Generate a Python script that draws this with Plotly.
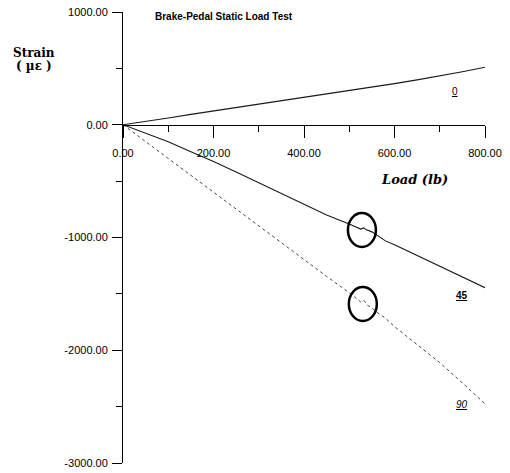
import plotly.graph_objects as go

# ---- data ----
load_0 = [0, 50, 100, 150, 200, 250, 300, 350, 400, 450, 500, 550, 600, 650, 700, 750, 800]
strain_0 = [0, 28, 60, 92, 122, 150, 182, 212, 242, 272, 302, 335, 365, 398, 432, 470, 510]

load_45 = [0, 50, 100, 150, 200, 250, 300, 350, 400, 450, 500, 515, 525, 532, 538, 550, 560, 580, 600, 650, 700, 750, 800]
strain_45 = [0, -75, -150, -240, -325, -420, -515, -610, -705, -800, -880, -905, -925, -915, -932, -950, -975, -1030, -1065, -1160, -1255, -1350, -1445]

load_90 = [0, 50, 100, 150, 200, 250, 300, 350, 400, 450, 500, 515, 525, 532, 540, 550, 560, 580, 600, 650, 700, 750, 800]
strain_90 = [0, -150, -300, -450, -600, -750, -900, -1050, -1195, -1345, -1490, -1535, -1570, -1555, -1600, -1625, -1660, -1715, -1790, -1950, -2110, -2290, -2475]

circle_load = [528, 530]
circle_strain = [-933, -1590]

label_text = ["<u>0</u>", "<u><b>45</b></u>", "<u><i>90</i></u>"]
label_load = [734, 749, 749]
label_strain = [296, -1516, -2484]

y_tickvals = [1000, 0, -1000, -2000, -3000]
y_ticktext = ["1000.00", "0.00", "-1000.00", "-2000.00", "-3000.00"]
x_tickvals = [0, 200, 400, 600, 800]
x_ticktext = ["0.00", "200.00", "400.00", "600.00", "800.00"]

fig = go.Figure()
fig.add_trace(go.Scatter(x=load_0, y=strain_0, mode="lines",
                         line=dict(color="#1a1a1a", width=1.1), name="0"))
fig.add_trace(go.Scatter(x=load_45, y=strain_45, mode="lines",
                         line=dict(color="#1a1a1a", width=1.1), name="45"))
fig.add_trace(go.Scatter(x=load_90, y=strain_90, mode="lines",
                         line=dict(color="#444444", width=1, dash="dot"), name="90"))

shapes = []
for cx, cy in zip(circle_load, circle_strain):
    shapes.append(dict(type="circle", xref="x", yref="y",
                       xsizemode="pixel", ysizemode="pixel",
                       xanchor=cx, yanchor=cy,
                       x0=-14, x1=14, y0=-17, y1=17,
                       line=dict(color="black", width=2.5)))

annotations = []
for t, lx, ly in zip(label_text, label_load, label_strain):
    annotations.append(dict(text=t, x=lx, y=ly, xref="x", yref="y", showarrow=False,
                            font=dict(family="Liberation Sans", size=10, color="black")))
annotations += [
    dict(text="<b>Brake-Pedal Static Load Test</b>", xref="paper", yref="paper",
         x=(153 - 123) / 362, y=1.0 - (16 - 12) / 451, xanchor="left", yanchor="middle",
         showarrow=False, font=dict(family="Liberation Sans", size=10, color="black")),
    dict(text="<b>Strain</b>", xref="paper", yref="paper",
         x=(34 - 123) / 362, y=1.0 - (53 - 12) / 451, xanchor="center", yanchor="middle",
         showarrow=False, font=dict(family="DejaVu Serif", size=12, color="black")),
    dict(text="<b>( µε )</b>", xref="paper", yref="paper",
         x=(34 - 123) / 362, y=1.0 - (66 - 12) / 451, xanchor="center", yanchor="middle",
         showarrow=False, font=dict(family="DejaVu Serif", size=12, color="black")),
    dict(text="<b><i>Load (lb)</i></b>", xref="paper", yref="paper",
         x=(414 - 123) / 362, y=1.0 - (179 - 12) / 451, xanchor="center", yanchor="middle",
         showarrow=False, font=dict(family="DejaVu Serif", size=13, color="black")),
]

fig.update_layout(
    width=510, height=473,
    margin=dict(l=123, r=25, t=12, b=10),
    paper_bgcolor="white", plot_bgcolor="white",
    showlegend=False,
    shapes=shapes,
    annotations=annotations,
    xaxis=dict(range=[0, 800], tickvals=x_tickvals, ticktext=x_ticktext,
               showgrid=False, zeroline=False, showline=True, linecolor="black", linewidth=1,
               ticks="outside", ticklen=12, tickcolor="black", tickwidth=1,
               minor=dict(dtick=100, ticks="outside", ticklen=6, tickcolor="black"),
               anchor="free", position=0.75, ticklabelstandoff=6, automargin=False,
               tickfont=dict(family="Liberation Sans", size=11, color="black")),
    yaxis=dict(range=[-3000, 1000], tickvals=y_tickvals, ticktext=y_ticktext,
               showgrid=False, zeroline=False, showline=True, linecolor="black", linewidth=1,
               ticks="outside", ticklen=10, tickcolor="black", tickwidth=1, automargin=False,
               ticklabelstandoff=2,
               minor=dict(tickvals=[500, -500, -1500, -2500], ticks="outside", ticklen=6, tickcolor="black"),
               tickfont=dict(family="Liberation Sans", size=11, color="black")),
)

fig.write_html("out.html", config={"displayModeBar": False},
               post_script="document.body.style.margin='0';document.body.style.overflow='hidden';")
